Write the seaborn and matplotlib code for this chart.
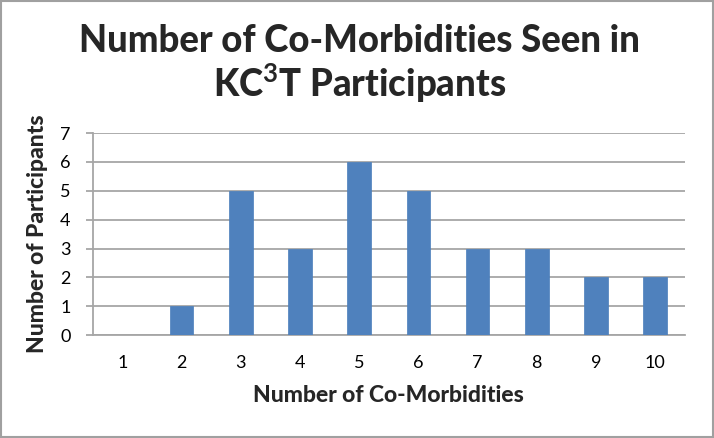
import matplotlib
matplotlib.use("Agg")
import matplotlib.pyplot as plt
import pandas as pd
import seaborn as sns

# data
comorbidities = ["1", "2", "3", "4", "5", "6", "7", "8", "9", "10"]
participants = [0, 1, 5, 3, 6, 5, 3, 3, 2, 2]

df = pd.DataFrame({"Co-Morbidities": comorbidities, "Participants": participants})

sns.set_style("white")
plt.rcParams["font.family"] = ["Lato", "DejaVu Sans"]
plt.rcParams["mathtext.fontset"] = "custom"
plt.rcParams["mathtext.rm"] = "Lato:bold"
plt.rcParams["mathtext.bf"] = "Lato:bold"

fig = plt.figure(figsize=(7.14, 4.38), dpi=100)
ax = fig.add_axes([0.130, 0.235, 0.829, 0.461])

sns.barplot(data=df, x="Co-Morbidities", y="Participants", color="#4F81BD",
            width=0.4, saturation=1, edgecolor="#4A7EBB", linewidth=0.5, ax=ax, zorder=3)

ax.set_ylim(0, 7)
ax.set_yticks(range(0, 8))
ax.set_xlim(-0.5, 9.5)
ax.yaxis.grid(True, color="#A6A6A6", linewidth=1.3, zorder=0)
ax.set_axisbelow(True)
for side in ["top", "right"]:
    ax.spines[side].set_visible(False)
for side in ["left", "bottom"]:
    ax.spines[side].set_color("#A6A6A6")
    ax.spines[side].set_linewidth(1.3)
ax.tick_params(axis="y", left=True, length=5, color="#A6A6A6", width=1.3,
               labelsize=13, pad=11, labelcolor="black")
ax.tick_params(axis="x", bottom=False, labelsize=13, pad=11, labelcolor="black")

ax.set_xlabel("Number of Co-Morbidities", fontsize=16.5, fontweight="black", labelpad=10)
ax.set_ylabel("Number of Participants", fontsize=16.5, fontweight="black", labelpad=9)

fig.text(0.503, 0.907, "Number of Co-Morbidities Seen in", ha="center", va="center",
         fontsize=26.3, fontweight="black")
fig.text(0.503, 0.808, r"KC$^{3}$T Participants", ha="center", va="center",
         fontsize=26.3, fontweight="black")

# outer frame like the exported chart area
fig.patches.append(plt.Rectangle((0.002, 0.003), 0.996, 0.994, transform=fig.transFigure,
                                 fill=False, edgecolor="#A0A0A0", linewidth=1.5))

fig.savefig("out.png", dpi=100)
